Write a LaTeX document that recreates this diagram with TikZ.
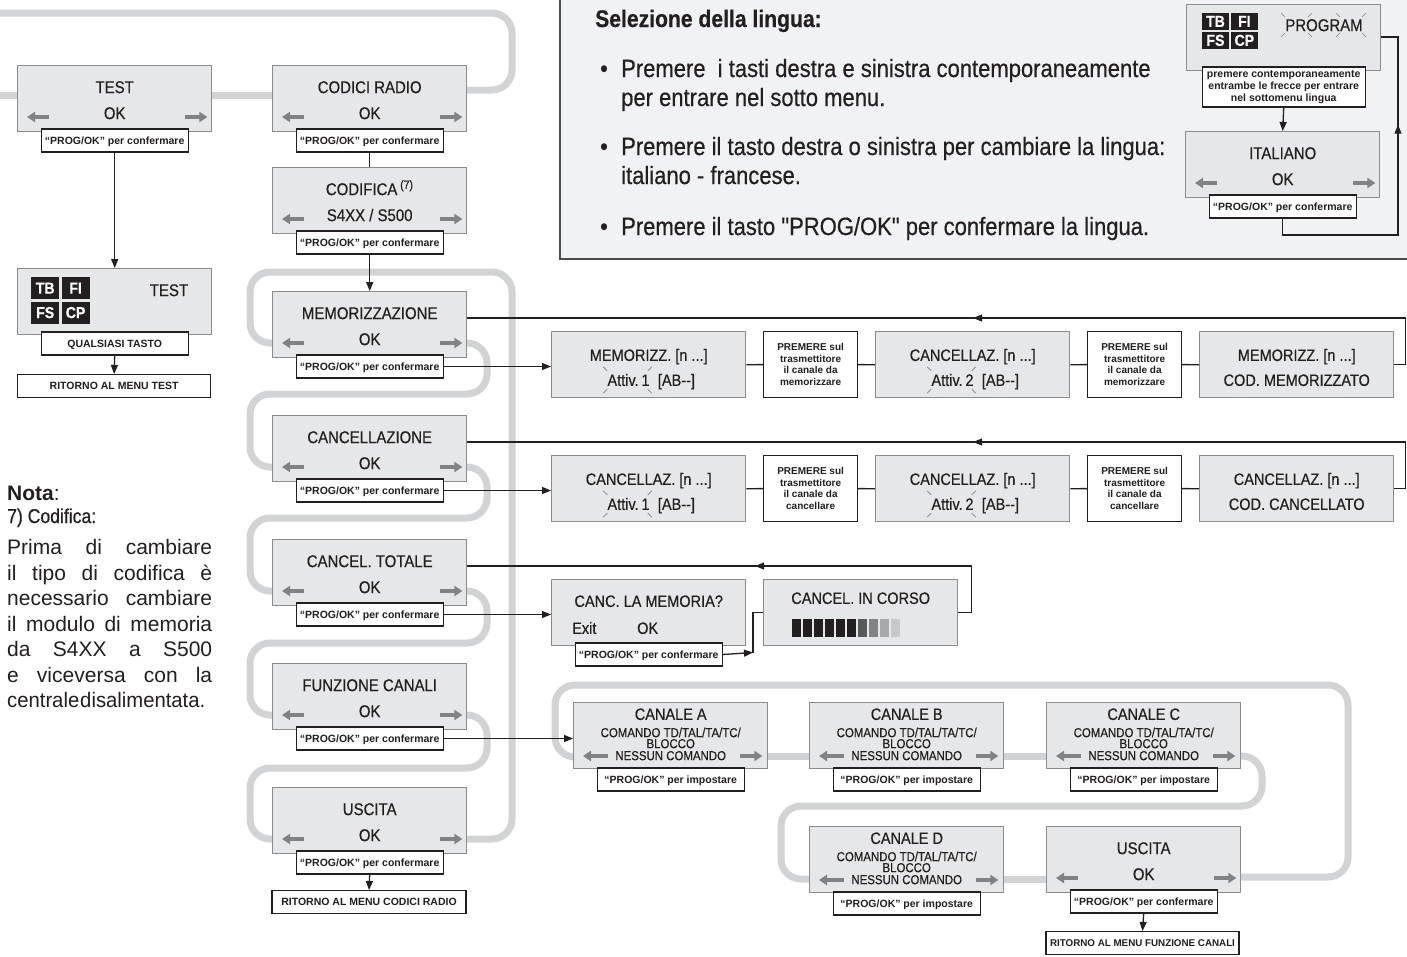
\documentclass[tikz,border=0pt]{standalone}
\usepackage{fontspec}
\setmainfont{Liberation Sans}
\newfontfamily\cnd{Liberation Sans}[FakeStretch=0.88,FakeBold=0.45]
\usetikzlibrary{arrows.meta,decorations.markings}
\definecolor{boxfill}{HTML}{E6E7E8}
\definecolor{boxline}{HTML}{8A8C8E}
\definecolor{route}{HTML}{D1D3D4}
\definecolor{garr}{HTML}{808285}
\definecolor{panel}{HTML}{F1F2F4}
\definecolor{panelline}{HTML}{4D4D4F}
\definecolor{ink}{HTML}{231F20}
\definecolor{bar1}{HTML}{58595B}
\definecolor{bar2}{HTML}{808285}
\definecolor{bar3}{HTML}{A7A9AC}
\definecolor{bar4}{HTML}{C7C8CA}
\pgfdeclarelayer{bg}
\pgfsetlayers{bg,main}
\tikzset{
  mbox/.style={draw=boxline, fill=boxfill, line width=1.4pt, minimum width=194pt, minimum height=66pt, inner sep=0pt, anchor=north west},
  lbl/.style={draw=ink, fill=white, line width=1.2pt, minimum width=147pt, minimum height=23pt, inner sep=0pt, text=ink, font=\bfseries\fontsize{10.5}{12}\selectfont, text height=7.6pt, text depth=0pt},
  btxt/.style={inner sep=0pt, text=ink, font=\cnd\fontsize{17}{20}\selectfont, text height=12.2pt, text depth=0pt},
  rtxt/.style={inner sep=0pt, text=ink, font=\cnd\fontsize{16.5}{19}\selectfont, text height=11.8pt, text depth=0pt},
  csmall/.style={inner sep=0pt, text=ink, font=\cnd\fontsize{13}{15}\selectfont, text height=9.3pt, text depth=0pt},
  ptxt/.style={inner sep=0pt, text=ink, font=\cnd\fontsize{25}{29}\selectfont},
  ntxt/.style={inner sep=0pt, text=ink, font=\fontsize{21}{25}\selectfont},
  garrow/.style={draw=garr, line width=3.6pt, -{Triangle[length=8pt,width=10pt]}},
  groute/.style={draw=route, line width=7pt, rounded corners=20pt},
  blk/.style={draw=ink, line width=1.3pt},
  blkarr/.style={blk, -{Triangle[length=9pt,width=7pt]}},
  midarr/.style={postaction={decorate}, decoration={markings, mark=at position #1 with {\arrow{Triangle[length=9pt,width=7pt]}}}},
  spk/.style={draw=garr, line width=0.6pt},
  cell/.style={fill=ink, text=white, inner sep=0pt, anchor=north west, font=\cnd\bfseries\fontsize{16}{16}\selectfont},
  wbox/.style={draw=ink, fill=white, line width=1.2pt, minimum width=94pt, minimum height=66pt, inner sep=0pt, anchor=north west, align=center, text=ink, font=\bfseries\fontsize{10}{11.5}\selectfont},
}
\newcommand\menuitem[6]{%
  \node[mbox] (#1) at (#2,#3) {};
  \node[btxt] (#1-a) at ([yshift=-22pt]#1.north) {#4};
  \node[btxt] (#1-b) at ([yshift=-48pt]#1.north) {#5};
  \draw[garrow] ([shift={(32pt,-52pt)}]#1.north west) -- ([shift={(10pt,-52pt)}]#1.north west);
  \draw[garrow] ([shift={(-27pt,-52pt)}]#1.north east) -- ([shift={(-5pt,-52pt)}]#1.north east);
  \node[lbl, anchor=north] (#1-l) at ([yshift=4pt]#1.south) {#6};
}
\newcommand\canale[4]{%
  \node[mbox] (#1) at (#2,#3) {};
  \node[rtxt] (#1-a) at ([yshift=-12pt]#1.north) {CANALE #4};
  \node[csmall] (#1-b) at ([yshift=-30.5pt]#1.north) {COMANDO TD/TAL/TA/TC/};
  \node[csmall] (#1-c) at ([yshift=-41.5pt]#1.north) {BLOCCO};
  \node[csmall] (#1-d) at ([yshift=-53.5pt]#1.north) {NESSUN COMANDO};
  \draw[garrow] ([shift={(35pt,-54pt)}]#1.north west) -- ([shift={(10pt,-54pt)}]#1.north west);
  \draw[garrow] ([shift={(-28pt,-54pt)}]#1.north east) -- ([shift={(-6pt,-54pt)}]#1.north east);
  \node[lbl, anchor=north] (#1-l) at ([yshift=2pt]#1.south) {“PROG/OK” per impostare};
}
\newcommand\spark[1]{%
  \draw[spk] ([shift={(-4pt,7pt)}]#1.north west) -- ++(4pt,-4pt);
  \draw[spk] ([shift={(2pt,7pt)}]#1.north east) -- ++(-4pt,-4pt);
  \draw[spk] ([shift={(-4pt,-7pt)}]#1.south west) -- ++(4pt,4pt);
  \draw[spk] ([shift={(2pt,-7pt)}]#1.south east) -- ++(-4pt,4pt);
}
\newcommand\rboxA[5]{%
  \node[mbox] (#1) at (#2,#3) {};
  \node[rtxt] (#1-a) at ([yshift=-24pt]#1.north) {#4};
  \node[rtxt, anchor=east] (#1-b) at ([shift={(1pt,-49pt)}]#1.north) {Attiv.\,#5};
  \node[rtxt, anchor=west] (#1-c) at ([shift={(9pt,-49pt)}]#1.north) {[AB-{}-]};
  \spark{#1-b}
}
\newcommand\rboxB[5]{%
  \node[mbox] (#1) at (#2,#3) {};
  \node[rtxt] (#1-a) at ([yshift=-24pt]#1.north) {#4};
  \node[rtxt] (#1-b) at ([yshift=-49pt]#1.north) {#5};
}
\newcommand\lcd[5]{% name, x, y, cell w, cell h
  \node[cell, minimum width=#4pt, minimum height=#5pt] (#1-1) at (#2,#3) {TB};
  \node[cell, minimum width=#4pt, minimum height=#5pt] (#1-2) at ([xshift=2pt]#1-1.north east) {FI};
  \node[cell, minimum width=#4pt, minimum height=#5pt] (#1-3) at ([yshift=-2pt]#1-1.south west) {FS};
  \node[cell, minimum width=#4pt, minimum height=#5pt] (#1-4) at ([xshift=2pt]#1-3.north east) {CP};
}
\begin{document}
\begin{tikzpicture}[x=1pt,y=-1pt]
\useasboundingbox (0,0) rectangle (1407,956);
\begin{pgfonlayer}{bg}\fill[white] (0,0) rectangle (1407,956);\end{pgfonlayer}

% ---------- language panel ----------
\node[draw=panelline, fill=panel, line width=1.6pt, minimum width=870pt, minimum height=270pt, anchor=north west, inner sep=0pt] (panel) at (559,-12) {};
\node[inner sep=0pt, text=ink, font=\cnd\bfseries\fontsize{24}{28}\selectfont, anchor=base west] (ptitle) at (595,27) {Selezione della lingua:};
\node[ptxt, anchor=base] (pb1) at (604,77) {•};
\node[ptxt, anchor=base west] (pl1) at (621,77) {Premere\ \ i tasti destra e sinistra contemporaneamente};
\node[ptxt, anchor=base west] (pl2) at (621,106) {per entrare nel sotto menu.};
\node[ptxt, anchor=base] (pb2) at (604,155) {•};
\node[ptxt, anchor=base west] (pl3) at (621,155) {Premere il tasto destra o sinistra per cambiare la lingua:};
\node[ptxt, anchor=base west] (pl4) at (621,184) {italiano - francese.};
\node[ptxt, anchor=base] (pb3) at (604,235) {•};
\node[ptxt, anchor=base west] (pl5) at (621,235) {Premere il tasto "PROG/OK" per confermare la lingua.};

\node[mbox] (prog) at (1186,4) {};
\lcd{pc}{1202}{13}{26.5}{16.5}
\node[btxt] (prog-a) at (1324,25) {PROGRAM};
\foreach \px/\d in {1283/1,1310/-1,1338/1,1364/-1}{
  \draw[spk] (\px-2*\d,13) -- ++(4pt*\d,-4pt);
  \draw[spk] (\px-2*\d,37) -- ++(4pt*\d,4pt);
}
\node[lbl, anchor=north, minimum width=163pt, minimum height=40pt, align=center, text height=, text depth=, font=\bfseries\fontsize{10.5}{12}\selectfont] (prog-l) at ([yshift=5pt]prog.south) {premere contemporaneamente\\entrambe le frecce per entrare\\nel sottomenu lingua};
\menuitem{ital}{1185}{131}{ITALIANO}{OK}{“PROG/OK” per confermare}
\draw[blkarr] (prog-l.south) -- (ital.north);
\coordinate (lg1) at (1398,235);
\coordinate (lg2) at (1398,37);
\draw[blk, midarr=242pt] (ital-l.south) |- (lg1) -- (lg2) -- (lg2 -| prog.east);

% ---------- left menu ----------
\menuitem{test}{17}{65}{TEST}{OK}{“PROG/OK” per confermare}
\menuitem{codici}{272}{65}{CODICI RADIO}{OK}{“PROG/OK” per confermare}
\menuitem{codifica}{272}{167}{CODIFICA\,\textsuperscript{(7)}}{S4XX / S500}{“PROG/OK” per confermare}
\menuitem{mem}{272}{291}{MEMORIZZAZIONE}{OK}{“PROG/OK” per confermare}
\menuitem{canc}{272}{415}{CANCELLAZIONE}{OK}{“PROG/OK” per confermare}
\menuitem{ctot}{272}{539}{CANCEL. TOTALE}{OK}{“PROG/OK” per confermare}
\menuitem{funz}{272}{663}{FUNZIONE CANALI}{OK}{“PROG/OK” per confermare}
\menuitem{usc}{272}{787}{USCITA}{OK}{“PROG/OK” per confermare}
\node[lbl, minimum width=194pt, anchor=north] (rit2) at (369,890) {RITORNO AL MENU CODICI RADIO};

\node[mbox] (test2) at (17,268) {};
\lcd{tc}{31}{277}{28}{22}
\node[btxt] (test2-a) at (169,290) {TEST};
\node[lbl, anchor=north] (qual) at ([yshift=4pt]test2.south) {QUALSIASI TASTO};
\node[lbl, minimum width=193pt, anchor=north west] (rit1) at (17,374) {RITORNO AL MENU TEST};

\draw[blkarr] (test-l.south) -- (test2.north);
\draw[blkarr] (qual.south) -- (rit1.north);
\draw[blk] (codici-l.south) -- (codifica.north);
\draw[blkarr] (codifica-l.south) -- (mem.north);
\draw[blkarr] (usc-l.south) -- (rit2.north);

% ---------- note ----------
\node[inner sep=0pt, text=ink, font=\bfseries\fontsize{21}{25}\selectfont, anchor=base west] (nota) at (7,500) {Nota\mdseries:};
\node[inner sep=0pt, text=ink, font=\cnd\fontsize{20}{24}\selectfont, anchor=base west] (nota2) at (7,523) {7) Codifica:};
\node[ntxt, anchor=base west] (n1) at (7,554.5) {\makebox[205pt][s]{Prima di cambiare}};
\node[ntxt, anchor=base west] (n2) at (7,580) {\makebox[205pt][s]{il tipo di codifica è}};
\node[ntxt, anchor=base west] (n3) at (7,605.5) {\makebox[205pt][s]{necessario cambiare}};
\node[ntxt, anchor=base west] (n4) at (7,631) {\makebox[205pt][s]{il modulo di memoria}};
\node[ntxt, anchor=base west] (n5) at (7,656.5) {\makebox[205pt][s]{da S4XX a S500}};
\node[ntxt, anchor=base west] (n6) at (7,682) {\makebox[205pt][s]{e viceversa con la}};
\node[ntxt, anchor=base west] (n7) at (7,707.5) {\scalebox{0.965}[1]{centrale\hspace{1pt plus 1pt minus 3pt}disalimentata.}};

% ---------- memorizzazione rows ----------
\rboxA{r1a}{551}{331}{MEMORIZZ. [n ...]}{1}
\node[wbox] (p1) at (763,331) {PREMERE sul\\trasmettitore\\il canale da\\memorizzare};
\rboxA{r1b}{875}{331}{CANCELLAZ. [n ...]}{2}
\node[wbox] (p2) at (1087,331) {PREMERE sul\\trasmettitore\\il canale da\\memorizzare};
\rboxB{r1c}{1199}{331}{MEMORIZZ. [n ...]}{COD. MEMORIZZATO}
\draw[blk] (r1a.east) -- (p1.west);
\draw[blk] (p1.east) -- (r1b.west);
\draw[blk] (r1b.east) -- (p2.west);
\draw[blk] (p2.east) -- (r1c.west);
\draw[blk, midarr=490pt] (r1c.east) -- ++(11,0) |- ([yshift=-27pt]mem.north east);
\draw[blkarr] (mem-l.east) -- (mem-l.east -| r1a.west);

\rboxA{r2a}{551}{455}{CANCELLAZ. [n ...]}{1}
\node[wbox] (p3) at (763,455) {PREMERE sul\\trasmettitore\\il canale da\\cancellare};
\rboxA{r2b}{875}{455}{CANCELLAZ. [n ...]}{2}
\node[wbox] (p4) at (1087,455) {PREMERE sul\\trasmettitore\\il canale da\\cancellare};
\rboxB{r2c}{1199}{455}{CANCELLAZ. [n ...]}{COD. CANCELLATO}
\draw[blk] (r2a.east) -- (p3.west);
\draw[blk] (p3.east) -- (r2b.west);
\draw[blk] (r2b.east) -- (p4.west);
\draw[blk] (p4.east) -- (r2c.west);
\draw[blk, midarr=490pt] (r2c.east) -- ++(11,0) |- ([yshift=-27pt]canc.north east);
\draw[blkarr] (canc-l.east) -- (canc-l.east -| r2a.west);

% ---------- cancel totale ----------
\node[mbox] (cmem) at (551,579) {};
\node[rtxt] (cmem-a) at ([yshift=-22pt]cmem.north) {CANC. LA MEMORIA?};
\node[rtxt, anchor=west] (cmem-b) at ([shift={(21pt,-49pt)}]cmem.north west) {Exit};
\node[rtxt, anchor=west] (cmem-c) at ([shift={(86pt,-49pt)}]cmem.north west) {OK};
\node[lbl, anchor=north] (cmem-l) at ([yshift=4pt]cmem.south) {“PROG/OK” per confermare};
\node[mbox] (cio) at (763,579) {};
\node[rtxt] (cio-a) at ([yshift=-19pt]cio.north) {CANCEL. IN CORSO};
\foreach \i/\c in {0/ink,1/ink,2/ink,3/ink,4/ink,5/ink,6/bar1,7/bar2,8/bar3,9/bar4}{
  \fill[\c] (792+11*\i,619) rectangle ++(8.5,18);
}
\coordinate (cj) at (753,652.5);
\draw[blkarr] (ctot-l.east) -- (ctot-l.east -| cmem.west);
\draw[blkarr] (cmem-l.east) -- (cj);
\draw[blk] (cj) |- (cio.west);
\draw[blk, midarr=276pt] (cio.east) -- ++(13,0) |- ([yshift=-27pt]ctot.north east);

% ---------- canali ----------
\canale{ca}{573}{702}{A}
\canale{cb}{809}{702}{B}
\canale{cc}{1046}{702}{C}
\canale{cd}{809}{826}{D}
\menuitem{usc2}{1046}{826}{USCITA}{OK}{“PROG/OK” per confermare}
\node[lbl, minimum width=193pt, anchor=north, font=\bfseries\fontsize{9.8}{12}\selectfont] (rit3) at (1142.5,931) {RITORNO AL MENU FUNZIONE CANALI};
\draw[blkarr] (usc2-l.south) -- (rit3.north);
\draw[blkarr] (funz-l.east) -- (funz-l.east -| ca.west);

% ---------- grey routes ----------
\begin{pgfonlayer}{bg}
\draw[groute] ([shift={(-20pt,-25pt)}]codici.north east) -- (512,90) -- (512,13) -- (-30,13);
\draw[groute] (-30,95) -- ([shift={(20pt,-30pt)}]test.north west);
\draw[groute] ([shift={(-20pt,-30pt)}]test.north east) -- ([shift={(20pt,-30pt)}]codici.north west);
\draw[groute] ([shift={(20pt,-52pt)}]mem.north west) -- (250,343) -- (250,272) -- (512,272) -- (512,839) -- ([shift={(-20pt,-52pt)}]usc.north east);
\draw[groute] ([shift={(-20pt,-52pt)}]mem.north east) -- (487,343) -- (487,394) -- (250,394) -- (250,467) -- ([shift={(20pt,-52pt)}]canc.north west);
\draw[groute] ([shift={(-20pt,-52pt)}]canc.north east) -- (487,467) -- (487,518) -- (250,518) -- (250,591) -- ([shift={(20pt,-52pt)}]ctot.north west);
\draw[groute] ([shift={(-20pt,-52pt)}]ctot.north east) -- (487,591) -- (487,643) -- (250,643) -- (250,715) -- ([shift={(20pt,-52pt)}]funz.north west);
\draw[groute] ([shift={(-20pt,-52pt)}]funz.north east) -- (487,715) -- (487,768) -- (250,768) -- (250,839) -- ([shift={(20pt,-52pt)}]usc.north west);
\draw[groute] ([shift={(20pt,-55pt)}]ca.north west) -- (555,757) -- (555,685) -- (1348,685) -- (1348,877) -- ([shift={(-20pt,-51pt)}]usc2.north east);
\draw[groute] ([shift={(-20pt,-54pt)}]ca.north east) -- ([shift={(20pt,-54pt)}]cb.north west);
\draw[groute] ([shift={(-20pt,-54pt)}]cb.north east) -- ([shift={(20pt,-54pt)}]cc.north west);
\draw[groute] ([shift={(-20pt,-54pt)}]cc.north east) -- (1262,756) -- (1262,806) -- (781,806) -- (781,879) -- ([shift={(20pt,-53pt)}]cd.north west);
\draw[groute] ([shift={(-20pt,-53pt)}]cd.north east) -- ([shift={(20pt,-53pt)}]usc2.north west);
\end{pgfonlayer}
\end{tikzpicture}
\end{document}
